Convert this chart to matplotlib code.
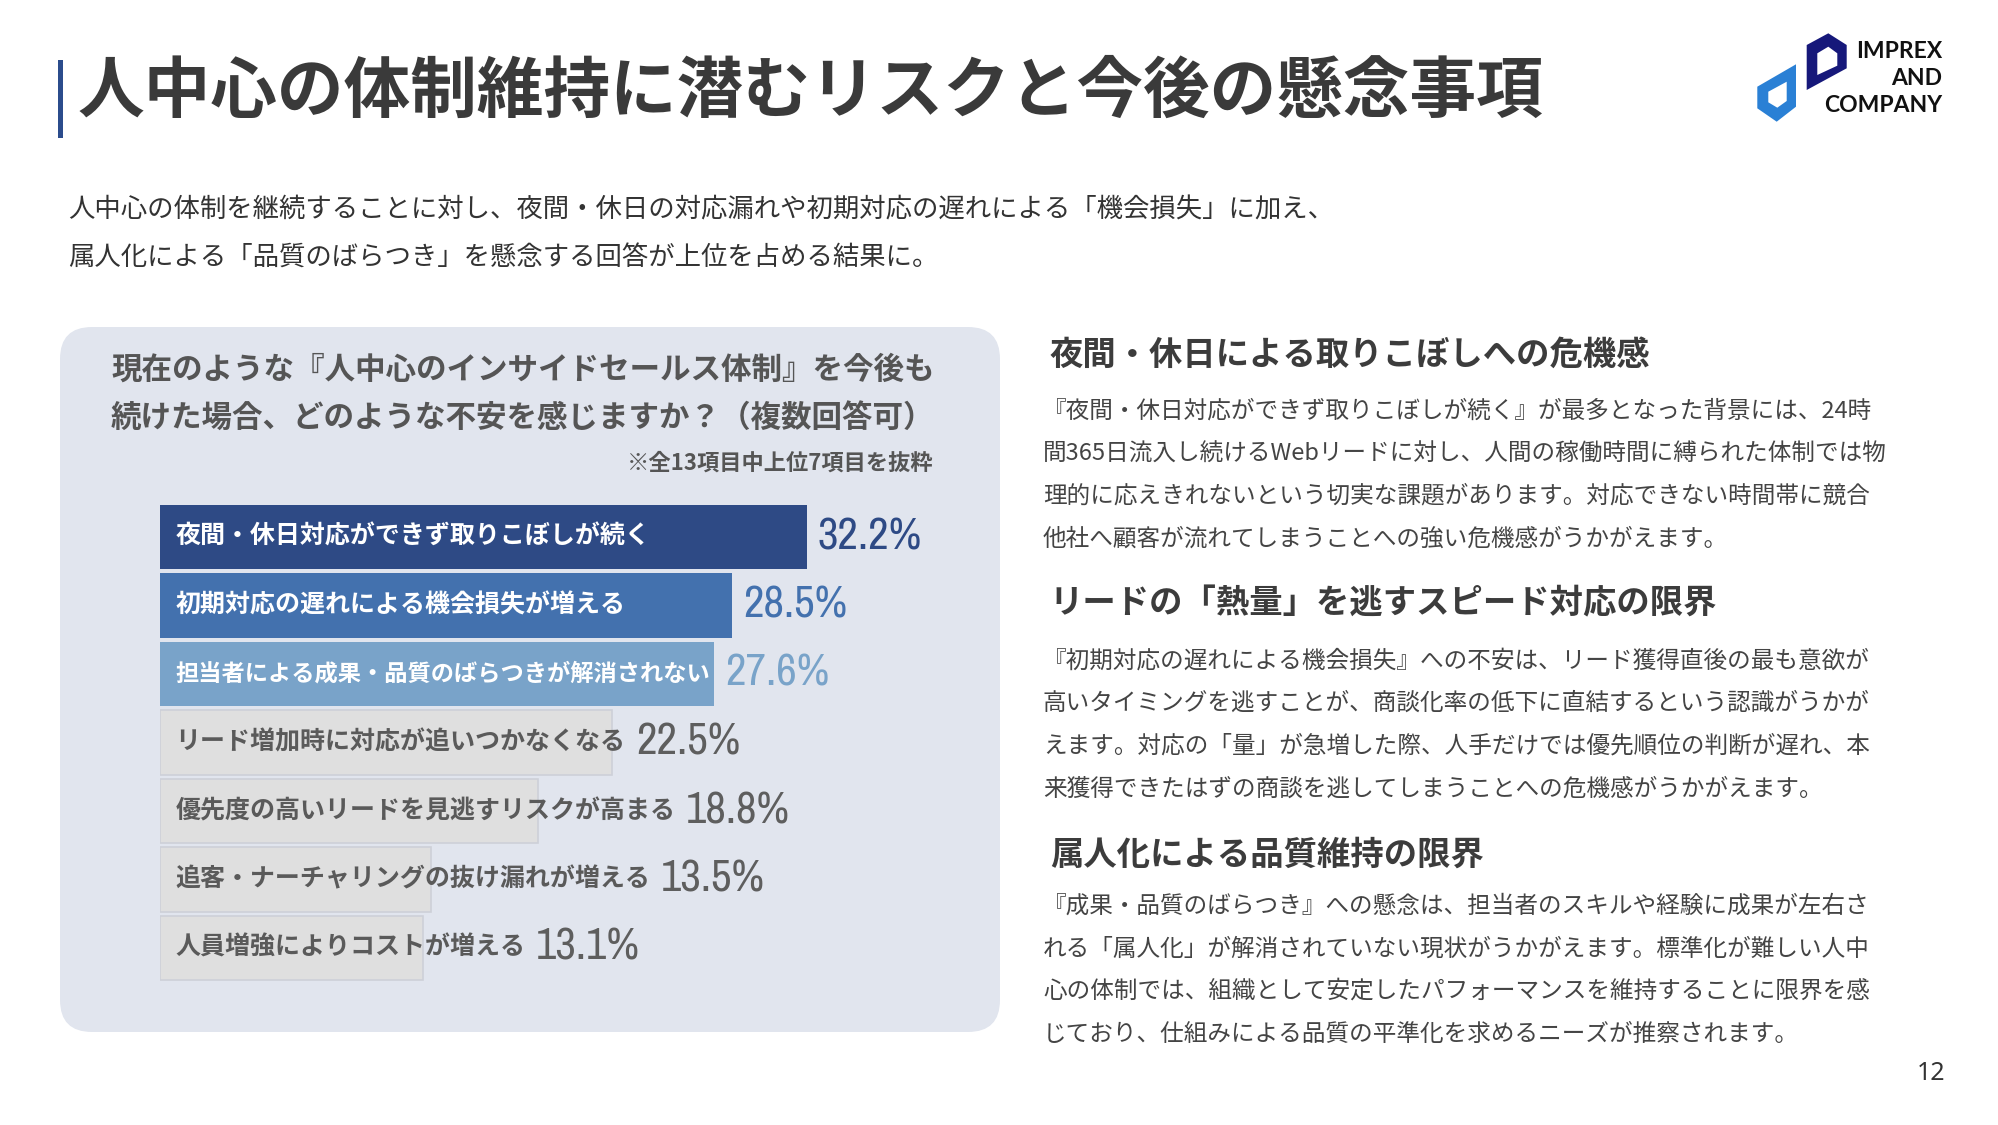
import matplotlib
matplotlib.use("Agg")
import matplotlib.pyplot as plt
from matplotlib.patches import FancyBboxPatch, Rectangle, PathPatch
from matplotlib.path import Path
from matplotlib import font_manager as fm
import numpy as np

plt.rcParams['font.family'] = ['Noto Sans CJK JP', 'DejaVu Sans']

# ---------------- data ----------------
title = "人中心の体制維持に潜むリスクと今後の懸念事項"
lead_lines = [
    "人中心の体制を継続することに対し、夜間・休日の対応漏れや初期対応の遅れによる「機会損失」に加え、",
    "属人化による「品質のばらつき」を懸念する回答が上位を占める結果に。",
]
question_lines = [
    "現在のような『人中心のインサイドセールス体制』を今後も",
    "続けた場合、どのような不安を感じますか？（複数回答可）",
]
note = "※全13項目中上位7項目を抜粋"
categories = [
    "夜間・休日対応ができず取りこぼしが続く",
    "初期対応の遅れによる機会損失が増える",
    "担当者による成果・品質のばらつきが解消されない",
    "リード増加時に対応が追いつかなくなる",
    "優先度の高いリードを見逃すリスクが高まる",
    "追客・ナーチャリングの抜け漏れが増える",
    "人員増強によりコストが増える",
]
values = [32.2, 28.5, 27.6, 22.5, 18.8, 13.5, 13.1]

sections = [
    ("夜間・休日による取りこぼしへの危機感", [
        "『夜間・休日対応ができず取りこぼしが続く』が最多となった背景には、24時",
        "間365日流入し続けるWebリードに対し、人間の稼働時間に縛られた体制では物",
        "理的に応えきれないという切実な課題があります。対応できない時間帯に競合",
        "他社へ顧客が流れてしまうことへの強い危機感がうかがえます。",
    ]),
    ("リードの「熱量」を逃すスピード対応の限界", [
        "『初期対応の遅れによる機会損失』への不安は、リード獲得直後の最も意欲が",
        "高いタイミングを逃すことが、商談化率の低下に直結するという認識がうかが",
        "えます。対応の「量」が急増した際、人手だけでは優先順位の判断が遅れ、本",
        "来獲得できたはずの商談を逃してしまうことへの危機感がうかがえます。",
    ]),
    ("属人化による品質維持の限界", [
        "『成果・品質のばらつき』への懸念は、担当者のスキルや経験に成果が左右さ",
        "れる「属人化」が解消されていない現状がうかがえます。標準化が難しい人中",
        "心の体制では、組織として安定したパフォーマンスを維持することに限界を感",
        "じており、仕組みによる品質の平準化を求めるニーズが推察されます。",
    ]),
]
page_number = "12"
logo_lines = ["IMPREX", "AND", "COMPANY"]

# ---------------- styles ----------------
bar_colors = ["#2E4A85", "#4371AE", "#79A3C9"] + ["#DFDFDF"] * 4
label_colors = ["white"] * 3 + ["#5A5A5A"] * 4
inside_only = [True] * 3 + [False] * 4
value_colors = ["#2E4A85", "#4371AE", "#79A3C9"] + ["#5E5E5E"] * 4
panel_color = "#E1E5EE"
text_dark = "#3A3A3A"

# pick a narrow / condensed face for the percentages
def find_narrow():
    prefs = ["narrow-regular", "sansnarrow-regular", "condensed-regular",
             "condensed.ttf", "condensed-medium", "narrow"]
    files = [f.fname for f in fm.fontManager.ttflist]
    for p in prefs:
        for fn in files:
            low = fn.lower()
            if p in low and "italic" not in low and "oblique" not in low and "bold" not in low:
                return fn
    return None

narrow_file = find_narrow()
if narrow_file:
    value_fp = fm.FontProperties(fname=narrow_file, size=35)
else:
    value_fp = fm.FontProperties(family=["Roboto", "DejaVu Sans"], size=28)

W, H = 1999, 1125
fig = plt.figure(figsize=(W / 100, H / 100), dpi=100)
fig.patch.set_facecolor("white")

bg = fig.add_axes([0, 0, 1, 1])
bg.set_xlim(0, W)
bg.set_ylim(H, 0)
bg.axis("off")

# title
bg.add_patch(Rectangle((58, 60), 5, 78, color="#2B4C8C", lw=0))
bg.text(78, 92, title, fontsize=48, fontweight="bold", color=text_dark,
        va="center", ha="left")

# lead
for i, line in enumerate(lead_lines):
    bg.text(68, 210 + i * 47, line, fontsize=19, color="#333333", va="center", ha="left")

# logo
def poly_with_hole(outer, hole):
    verts = list(outer) + [outer[0]] + list(hole[::-1]) + [hole[-1]]
    codes = ([Path.MOVETO] + [Path.LINETO] * (len(outer) - 1) + [Path.CLOSEPOLY]
             + [Path.MOVETO] + [Path.LINETO] * (len(hole) - 1) + [Path.CLOSEPOLY])
    return Path(verts, codes)

dark_outer = [(1806.7, 45), (1828.3, 33.3), (1846.7, 45), (1846.7, 68.3), (1806.7, 90)]
dark_hole = [(1817.3, 53.3), (1828.3, 46.7), (1837.3, 53.3), (1837.3, 65.7), (1817.3, 75)]
blue_outer = [(1757.3, 86.7), (1796, 64.3), (1796, 106.7), (1776.7, 121.7), (1757.3, 108.3)]
blue_hole = [(1768.3, 91.7), (1786.7, 81.7), (1786.7, 101), (1777.3, 107.7), (1768.3, 102.3)]
bg.add_patch(PathPatch(poly_with_hole(dark_outer, dark_hole), fc="#16187A", ec="none"))
bg.add_patch(PathPatch(poly_with_hole(blue_outer, blue_hole), fc="#2A80D5", ec="none"))
for i, t in enumerate(logo_lines):
    bg.text(1942, 51.5 + i * 27, t, fontsize=16.5, fontweight="bold", color="#111111",
            family=["Lato", "DejaVu Sans"], ha="right", va="center")

# panel
bg.add_patch(FancyBboxPatch((60, 327), 940, 705,
                            boxstyle="round,pad=0,rounding_size=32",
                            fc=panel_color, ec="none"))
for i, line in enumerate(question_lines):
    bg.text(111, 370 + i * 48.3, line, fontsize=22, fontweight="bold",
            color="#555555", va="center", ha="left")
bg.text(934, 463, note, fontsize=16, fontweight="bold", color="#555555",
        va="center", ha="right")

# right column
head_y = [355, 604, 855]
body_y0 = [411, 661, 906]
for (head, body), hy, by in zip(sections, head_y, body_y0):
    bg.text(1050, hy, head, fontsize=24, fontweight="bold", color="#3C3C3C",
            va="center", ha="left")
    for j, line in enumerate(body):
        bg.text(1043, by + j * 42.7, line, fontsize=17, color="#444444",
                va="center", ha="left")

bg.text(1945, 1074, page_number, fontsize=18, color="#333333",
        family=["Noto Sans", "DejaVu Sans"], va="center", ha="right")

# ---------------- bar chart ----------------
px_per_pct = 20.08
x_left_px = 160
pitch = 68.5
n = len(categories)
top_px = 537 - pitch / 2
ax_w_pct = 40
ax = fig.add_axes([x_left_px / W, 1 - (top_px + n * pitch) / H,
                   ax_w_pct * px_per_pct / W, n * pitch / H])
ax.set_xlim(0, ax_w_pct)
ax.set_ylim(n - 0.5, -0.5)
ax.axis("off")
ax.patch.set_alpha(0)

ypos = np.arange(n)
bars = ax.barh(ypos, values, height=0.935, color=bar_colors, zorder=2)
for b, c in zip(bars, bar_colors):
    if c == "#DFDFDF":
        b.set_edgecolor("#CDD0D8")
        b.set_linewidth(1.2)

labels = []
for i, (cat, col) in enumerate(zip(categories, label_colors)):
    t = ax.annotate(cat, xy=(0, i), xytext=(11, 0), textcoords="offset points",
                    fontsize=18, fontweight="bold", color=col,
                    va="center", ha="left", zorder=3)
    labels.append(t)

fig.canvas.draw()
renderer = fig.canvas.get_renderer()
# labels on coloured bars must fit inside their bar
for i, (v, t) in enumerate(zip(values, labels)):
    if inside_only[i]:
        bar_end_px = ax.transData.transform((v, i))[0]
        ext = t.get_window_extent(renderer)
        avail = bar_end_px - 4 - ext.x0
        if ext.width > avail:
            t.set_fontsize(18 * avail / ext.width)
fig.canvas.draw()

for i, (v, t) in enumerate(zip(values, labels)):
    bar_end_px = ax.transData.transform((v, i))[0]
    lab_end_px = t.get_window_extent(renderer).x1
    gap_px = max(bar_end_px, lab_end_px) + 11 - bar_end_px
    ax.annotate(f"{v:.1f}%", xy=(v, i), xytext=(gap_px * 0.72, -12 * 0.72),
                textcoords="offset points", fontproperties=value_fp,
                color=value_colors[i], va="baseline", ha="left", zorder=3)

fig.savefig("out.png", dpi=100, facecolor="white")
